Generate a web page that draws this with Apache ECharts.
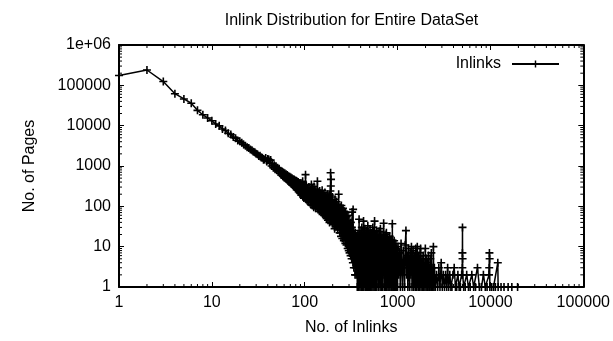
<!DOCTYPE html>
<html>
<head>
<meta charset="utf-8">
<script src="https://cdn.jsdelivr.net/npm/echarts@6/dist/echarts.min.js"></script>
<style>
  html, body { margin: 0; padding: 0; background: #fff; }
  #chart { width: 613px; height: 341px; }
</style>
</head>
<body>
<div id="chart"></div>
<script>
// number of inlinks (x) and number of pages having that many inlinks (y)
const inlinks = [
  1, 2, 3, 4, 5, 6, 7, 8, 9, 10,
  11, 12, 13, 14, 15, 16, 17, 18, 19, 20,
  21, 22, 23, 24, 25, 26, 27, 28, 29, 30,
  31, 32, 33, 34, 35, 36, 37, 38, 39, 40,
  41, 42, 43, 44, 45, 46, 47, 48, 49, 50,
  51, 52, 53, 54, 55, 56, 57, 58, 59, 60,
  61, 62, 63, 64, 65, 66, 67, 68, 69, 70,
  71, 72, 73, 74, 75, 76, 77, 78, 79, 80,
  81, 82, 83, 84, 85, 86, 87, 88, 89, 90,
  91, 92, 93, 94, 95, 96, 97, 98, 99, 100,
  101, 102, 103, 104, 105, 106, 107, 108, 109, 110,
  111, 112, 113, 114, 115, 116, 117, 118, 119, 120,
  121, 122, 123, 124, 125, 126, 127, 128, 129, 130,
  131, 132, 133, 134, 135, 136, 137, 138, 139, 140,
  141, 142, 143, 144, 145, 146, 147, 148, 149, 150,
  151, 152, 153, 154, 155, 156, 157, 158, 159, 160,
  161, 162, 163, 164, 165, 166, 167, 168, 169, 170,
  171, 172, 173, 174, 175, 176, 177, 178, 179, 180,
  181, 182, 183, 184, 185, 186, 187, 188, 189, 190,
  191, 192, 193, 194, 195, 196, 197, 198, 199, 200,
  202, 204, 206, 208, 210, 212, 214, 216, 218, 220,
  222, 224, 226, 228, 230, 232, 234, 236, 238, 240,
  242, 244, 246, 248, 250, 252, 254, 256, 258, 260,
  262, 264, 266, 268, 270, 272, 274, 276, 278, 280,
  282, 284, 286, 288, 290, 292, 294, 296, 298, 300,
  302, 304, 306, 308, 310, 312, 314, 316, 318, 320,
  322, 324, 326, 328, 330, 332, 334, 336, 338, 340,
  342, 344, 346, 348, 350, 352, 354, 356, 358, 360,
  362, 364, 366, 368, 370, 372, 374, 376, 378, 380,
  382, 385, 388, 391, 394, 397, 400, 403, 406, 409,
  412, 415, 418, 421, 424, 427, 430, 433, 436, 439,
  442, 445, 448, 451, 454, 457, 460, 463, 466, 469,
  472, 475, 478, 481, 484, 487, 490, 493, 496, 499,
  502, 505, 508, 511, 514, 517, 520, 523, 526, 529,
  532, 535, 538, 541, 544, 547, 550, 553, 556, 559,
  562, 565, 568, 571, 574, 577, 580, 583, 586, 589,
  592, 595, 598,
  603, 608, 613, 618, 623, 628, 633, 638, 643, 648,
  653, 658, 663, 668, 673, 678, 683, 688, 693, 698,
  703, 708, 713, 718, 723, 728, 733, 738, 743, 748,
  753, 758, 763, 768, 773, 778, 783, 788, 793, 798,
  803, 808, 813, 818, 823, 828, 833, 838, 843, 848,
  853, 858, 863, 868, 873, 878, 883, 888, 893, 898,
  903, 908, 913, 918, 923, 928, 933, 938, 943, 948,
  953, 958, 963, 968, 973, 978, 983, 988, 993, 998,
  1010, 1030, 1050, 1070, 1090, 1110, 1130, 1150, 1170, 1190,
  1210, 1230, 1250, 1270, 1290, 1310, 1330, 1350, 1370, 1390,
  1410, 1430, 1450, 1470, 1490, 1510, 1530, 1550, 1570, 1590,
  1610, 1630, 1650, 1670, 1690, 1710, 1730, 1750, 1770, 1790,
  1810, 1830, 1850, 1870, 1890, 1910, 1930, 1950, 1970, 1990,
  2010, 2030, 2050, 2070, 2090, 2110, 2130, 2150, 2170, 2190,
  2210, 2230, 2250, 2270, 2290, 2310, 2330, 2350, 2370, 2390,
  2410, 2430, 2450, 2470, 2490,
  2550, 2620, 2700, 2780, 2860, 2950, 3030, 3110, 3200, 3290,
  3380, 3460, 3550, 3650, 3750, 3850, 3950, 4070, 4200, 4330,
  4460, 4600, 4750, 4900, 4980, 4990, 5000, 5010, 5020, 5150,
  5350, 5550, 5800, 6050, 6300, 6600, 6900, 7250, 7600, 8000,
  8400, 8800, 9200, 9650, 9700, 9750, 9800, 9850, 10300, 10800,
  11300, 12000, 12100, 13000, 14000, 15500, 17000, 19600
];
const pages = [
  175000, 240000, 124000, 62000, 46000, 36000, 24000, 18600, 15500, 13200,
  11000, 9900, 8300, 7600, 6500, 6000, 5200, 4900, 4300, 4100,
  3750, 3400, 3200, 2900, 2800, 2550, 2450, 2250, 2200, 2000,
  1950, 1780, 1800, 1620, 1600, 1430, 1450, 1580, 1300, 1500,
  1450, 1150, 1400, 1000, 1150, 900, 1050, 830, 980, 780,
  900, 720, 850, 660, 760, 600, 730, 560, 690, 520,
  660, 500, 620, 460, 600, 430, 560, 400, 540, 390,
  520, 360, 500, 340, 470, 320, 460, 300, 440, 290,
  430, 260, 410, 250, 400, 230, 380, 220, 370, 210,
  380, 190, 350, 200, 420, 170, 340, 160, 320, 240,
  210, 610, 150, 330, 190, 140, 280, 170, 240, 130,
  300, 160, 220, 125, 260, 180, 110, 350, 150, 230,
  105, 270, 170, 200, 95, 310, 140, 240, 120, 190,
  90, 260, 150, 210, 100, 180, 420, 130, 230, 85,
  200, 120, 170, 75, 240, 110, 160, 80, 210, 130,
  70, 180, 100, 250, 90, 150, 65, 200, 115, 80,
  170, 60, 140, 95, 220, 70, 130, 55, 180, 90,
  120, 50, 160, 75, 200, 60, 110, 45, 150, 85,
  55, 170, 70, 130, 40, 190, 95, 50, 240, 680,
  320, 465, 100, 45, 140, 60, 110, 38, 170, 70,
  35, 120, 50, 90, 28, 150, 60, 100, 32, 130,
  45, 85, 26, 110, 55, 200, 30, 75, 22, 95,
  40, 65, 18, 105, 30, 80, 16, 55, 90, 25,
  60, 14, 75, 35, 20, 50, 12, 70, 28, 40,
  11, 55, 22, 38, 9, 60, 15, 30, 8, 45,
  18, 7, 35, 12, 28, 6, 40, 10, 22, 5,
  30, 72, 8, 18, 4, 84, 6, 25, 3, 14,
  20, 5, 12, 2, 22, 7, 3, 16, 2, 10,
  18, 3, 6, 1, 14, 2, 20, 4, 1, 12,
  1, 48, 3, 20, 1, 12, 2, 25, 1, 8,
  30, 2, 15, 1, 22, 4, 43, 1, 10, 18,
  2, 28, 1, 14, 6, 20, 1, 9, 25, 2,
  16, 1, 33, 3, 12, 1, 20, 5, 1, 18,
  2, 26, 1, 10, 15, 1, 22, 3, 8, 1,
  19, 2, 12, 30, 1, 7, 16, 2, 24, 1,
  11, 43, 2, 14, 1, 20, 4, 1, 17, 2,
  9, 25, 1,
  14, 2, 20, 5, 1, 12, 24, 3, 9, 1,
  28, 4, 15, 1, 11, 19, 2, 7, 1, 16,
  6, 38, 2, 13, 1, 9, 20, 3, 1, 15,
  5, 22, 1, 8, 12, 2, 17, 1, 6, 14,
  3, 1, 11, 4, 18, 1, 7, 13, 2, 9,
  1, 15, 3, 6, 1, 37, 2, 10, 1, 12,
  4, 1, 8, 14, 2, 1, 10, 5, 1, 9,
  3, 12, 1, 6, 2, 9, 1, 4, 8, 1,
  10, 2, 7, 1, 12, 3, 1, 8, 4, 1,
  11, 25, 2, 6, 1, 9, 3, 1, 7, 2,
  10, 1, 5, 8, 1, 3, 6, 1, 9, 2,
  1, 10, 4, 1, 6, 2, 1, 7, 9, 1,
  3, 5, 1, 2, 6, 1, 4, 2, 1, 9,
  3, 1, 5, 2, 1, 4, 1, 6, 2, 1,
  3, 1, 5, 2, 1, 7, 1, 3, 1, 2,
  1, 10, 2, 1, 3,
  1, 2, 1, 3, 1, 4, 1, 2, 1, 2,
  1, 3, 1, 2, 1, 1, 2, 3, 1, 1,
  2, 1, 1, 2, 3, 7, 30, 5, 2, 1,
  1, 2, 1, 1, 2, 1, 1, 3, 1, 1,
  2, 1, 1, 2, 3, 7, 5, 1, 1, 1,
  1, 4, 1, 1, 1, 1, 1, 1
];
const xTickLabels = ['1', '10', '100', '1000', '10000', '100000'];
const yTickLabels = ['1', '10', '100', '1000', '10000', '100000', '1e+06'];

const font = 'Liberation Sans, Arial, sans-serif';
const fontSize = 16;
const xMin = 1, xMax = 100000, yMin = 1, yMax = 1000000;

// minor ticks at 2..9 of every decade (gnuplot style)
const minorX = [];
for (let d = 1; d < xMax; d *= 10) for (let k = 2; k <= 9; k++) minorX.push([d * k, yMin]);
const minorY = [];
for (let d = 1; d < yMax; d *= 10) for (let k = 2; k <= 9; k++) minorY.push([xMin, d * k]);

// gnuplot '+' point
const plus = 'path://M3.6,0h1.8v3.6h3.6v1.8h-3.6v3.6h-1.8v-3.6h-3.6v-1.8h3.6z';

const chart = echarts.init(document.getElementById('chart'));

const logAxis = (min, max, labels, show) => ({
  type: 'log',
  logBase: 10,
  min: min,
  max: max,
  axisLine: { show: true, lineStyle: { color: '#000', width: 2 } },
  axisTick: { show: true, inside: true, length: 5, lineStyle: { color: '#000', width: 1 } },
  splitLine: { show: false },
  axisLabel: {
    show: show,
    color: '#000',
    fontFamily: font,
    fontSize: fontSize,
    margin: 8,
    formatter: v => labels[Math.round(Math.log10(v))]
  }
})

const option = {
  animation: false,
  backgroundColor: '#fff',
  title: {
    text: 'Inlink Distribution for Entire DataSet',
    left: 351.5,
    top: 13,
    padding: 0,
    textAlign: 'center',
    textStyle: { fontFamily: font, fontSize: fontSize, fontWeight: 'normal', color: '#000' }
  },
  legend: {
    data: ['Inlinks'],
    right: 53,
    top: 56,
    padding: 0,
    align: 'right',
    itemWidth: 47,
    itemHeight: 9,
    textStyle: { fontFamily: font, fontSize: fontSize, color: '#000', padding: [0, 6, 0, 0] }
  },
  grid: { left: 119, right: 29, top: 45, bottom: 53, containLabel: false },
  xAxis: [
    Object.assign(logAxis(xMin, xMax, xTickLabels, true), {
      position: 'bottom',
      name: 'No. of Inlinks',
      nameLocation: 'middle',
      nameGap: 33,
      nameTextStyle: { fontFamily: font, fontSize: fontSize, color: '#000' }
    }),
    Object.assign(logAxis(xMin, xMax, xTickLabels, false), { position: 'top' })
  ],
  yAxis: [
    Object.assign(logAxis(yMin, yMax, yTickLabels, true), {
      position: 'left',
      name: 'No. of Pages',
      nameLocation: 'middle',
      nameGap: 81,
      nameTextStyle: { fontFamily: font, fontSize: fontSize, color: '#000' }
    }),
    Object.assign(logAxis(yMin, yMax, yTickLabels, false), { position: 'right' })
  ],
  series: [
    {
      name: 'Inlinks',
      type: 'line',
      data: inlinks.map((x, i) => [x, pages[i]]),
      symbol: plus,
      symbolSize: 8,
      showAllSymbol: true,
      clip: false,
      lineStyle: { color: '#000', width: 1.5 },
      itemStyle: { color: '#000' },
      emphasis: { disabled: true }
    },
    {
      type: 'custom',
      silent: true,
      data: minorX,
      renderItem: (params, api) => {
        const b = api.coord([api.value(0), yMin]);
        const t = api.coord([api.value(0), yMax]);
        const st = { stroke: '#000', lineWidth: 1 };
        return {
          type: 'group',
          children: [
            { type: 'line', shape: { x1: b[0], y1: b[1], x2: b[0], y2: b[1] - 3 }, style: st },
            { type: 'line', shape: { x1: t[0], y1: t[1], x2: t[0], y2: t[1] + 3 }, style: st }
          ]
        };
      }
    },
    {
      type: 'custom',
      silent: true,
      data: minorY,
      renderItem: (params, api) => {
        const l = api.coord([xMin, api.value(1)]);
        const r = api.coord([xMax, api.value(1)]);
        const st = { stroke: '#000', lineWidth: 1 };
        return {
          type: 'group',
          children: [
            { type: 'line', shape: { x1: l[0], y1: l[1], x2: l[0] + 3, y2: l[1] }, style: st },
            { type: 'line', shape: { x1: r[0], y1: r[1], x2: r[0] - 3, y2: r[1] }, style: st }
          ]
        };
      }
    }
  ]
};

chart.setOption(option);
</script>
</body>
</html>
